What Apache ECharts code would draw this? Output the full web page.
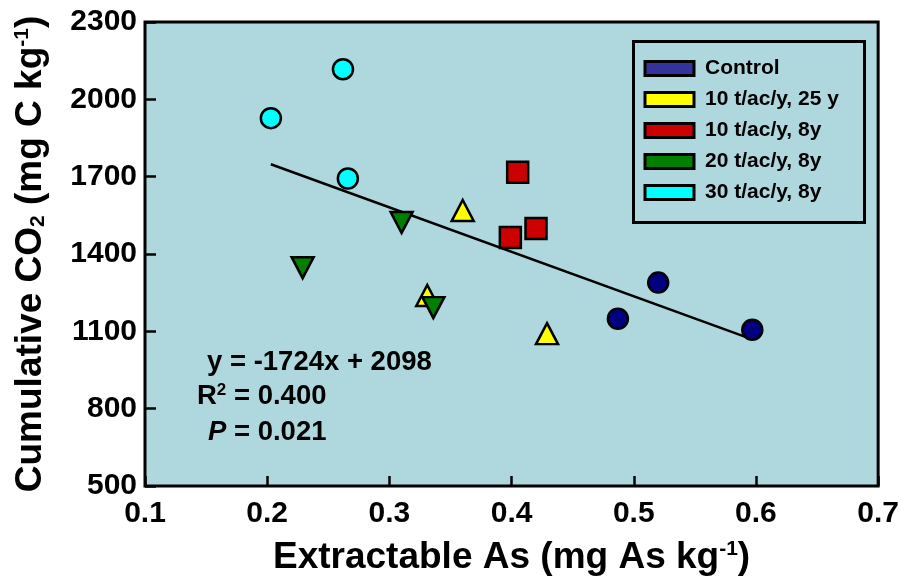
<!DOCTYPE html>
<html>
<head>
<meta charset="utf-8">
<script src="https://cdn.jsdelivr.net/npm/echarts@6/dist/echarts.min.js"></script>
<style>
	html, body { margin: 0; padding: 0; background: #fff; }
	#chart { width: 902px; height: 582px; }
</style>
</head>
<body>
<div id="chart"></div>
<script>
	// 数据
	var groups = ['Control', '10 t/ac/y, 25 y', '10 t/ac/y, 8y', '20 t/ac/y, 8y', '30 t/ac/y, 8y'];
	var controlX = [0.487, 0.520, 0.597];
	var controlY = [1149, 1289, 1106];
	var y25X = [0.360, 0.331, 0.429];
	var y25Y = [1569, 1239, 1091];
	var t10X = [0.405, 0.420, 0.399];
	var t10Y = [1717, 1499, 1464];
	var t20X = [0.310, 0.229, 0.336];
	var t20Y = [1522, 1347, 1192];
	var t30X = [0.203, 0.262, 0.266];
	var t30Y = [1927, 2117, 1693];
	var trendX = [0.203, 0.597];
	var trendY = [1748, 1069];
	var xTicks = [0.1, 0.2, 0.3, 0.4, 0.5, 0.6, 0.7];
	var yTicks = [500, 800, 1100, 1400, 1700, 2000, 2300];

	var font = '"Liberation Sans", Arial, sans-serif';

	function pairs(xs, ys) {
		return xs.map(function (x, i) { return [x, ys[i]]; });
	}

	function scatter(name, xs, ys, color, symbol, size, rotate) {
		return {
			name: name,
			type: 'scatter',
			data: pairs(xs, ys),
			symbol: symbol,
			symbolSize: size,
			symbolRotate: rotate || 0,
			itemStyle: { color: color, borderColor: '#000', borderWidth: 2.5, opacity: 1 },
			z: 3
		};
	}

	var myChart = echarts.init(document.getElementById('chart'));
	var option = {
		animation: false,
		grid: {
			left: 145, top: 22, right: 20, bottom: 96,
			show: true,
			backgroundColor: '#aed8dd',
			borderColor: '#000',
			borderWidth: 3
		},
		legend: {
			orient: 'vertical',
			left: 643.5,
			top: 58,
			padding: 0,
			icon: 'rect',
			itemWidth: 49,
			itemHeight: 14,
			itemGap: 10,
			itemStyle: { borderColor: '#000', borderWidth: 3 },
			textStyle: { fontFamily: font, fontWeight: 'bold', fontSize: 21, color: '#000', padding: [0, 0, 0, 6] },
			data: [
				{ name: groups[0], itemStyle: { color: '#333399' } },
				{ name: groups[1], itemStyle: { color: '#ffff00' } },
				{ name: groups[2], itemStyle: { color: '#cc0000' } },
				{ name: groups[3], itemStyle: { color: '#007f00' } },
				{ name: groups[4], itemStyle: { color: '#00ffff' } }
			]
		},
		xAxis: {
			type: 'value',
			min: xTicks[0],
			max: xTicks[xTicks.length - 1],
			interval: 0.1,
			axisLine: { show: false },
			axisTick: { show: true, inside: true, length: 10, lineStyle: { color: '#000', width: 2.5 } },
			splitLine: { show: false },
			axisLabel: {
				margin: 13,
				fontFamily: font, fontWeight: 'bold', fontSize: 30, color: '#000',
				formatter: function (v) { return v.toFixed(1); }
			},
			name: 'Extractable As (mg As kg{sup|-1})',
			nameLocation: 'middle',
			nameGap: 53,
			nameTextStyle: {
				fontFamily: font, fontWeight: 'bold', fontSize: 37, color: '#000',
				rich: { sup: { fontFamily: font, fontWeight: 'bold', fontSize: 21, verticalAlign: 'top', padding: [0, 0, 16, 0] } }
			}
		},
		yAxis: {
			type: 'value',
			min: yTicks[0],
			max: yTicks[yTicks.length - 1],
			interval: 300,
			axisLine: { show: false },
			axisTick: { show: true, inside: true, length: 11, lineStyle: { color: '#000', width: 2.5 } },
			splitLine: { show: false },
			axisLabel: {
				margin: 8, fontFamily: font, fontWeight: 'bold', fontSize: 30, color: '#000',
				formatter: function (v) { return String(v); }
			},
			name: 'Cumulative CO{sub|2} (mg C kg{sup|-1})',
			nameLocation: 'middle',
			nameGap: 96,
			nameTextStyle: {
				fontFamily: font, fontWeight: 'bold', fontSize: 37, color: '#000',
				rich: {
					sub: { fontFamily: font, fontWeight: 'bold', fontSize: 21, padding: [16, 0, 0, 0] },
					sup: { fontFamily: font, fontWeight: 'bold', fontSize: 21, padding: [0, 0, 16, 0] }
				}
			}
		},
		graphic: [
			{
				type: 'rect', left: 631, top: 39, z: 10,
				shape: { width: 231, height: 181 },
				style: { fill: 'none', stroke: '#000', lineWidth: 3 }
			},
			{
				type: 'text', left: 207, top: 348, z: 10,
				style: { text: 'y = -1724x + 2098', fontFamily: font, fontWeight: 'bold', fontSize: 27.5, fill: '#000' }
			},
			{
				type: 'text', left: 197, top: 382, z: 10,
				style: {
					text: 'R{sup|2} = 0.400', fontFamily: font, fontWeight: 'bold', fontSize: 27.5, fill: '#000',
					rich: { sup: { fontFamily: font, fontWeight: 'bold', fontSize: 17, padding: [0, 0, 11, 0] } }
				}
			},
			{
				type: 'text', left: 208, top: 418, z: 10,
				style: {
					text: '{i|P} = 0.021', fontFamily: font, fontWeight: 'bold', fontSize: 27.5, fill: '#000',
					rich: { i: { fontFamily: font, fontWeight: 'bold', fontStyle: 'italic', fontSize: 27.5 } }
				}
			}
		],
		series: [
			{
				name: 'trend',
				type: 'line',
				data: pairs(trendX, trendY),
				showSymbol: false,
				symbol: 'none',
				lineStyle: { color: '#000', width: 2.5 },
				z: 2,
				silent: true
			},
			scatter(groups[0], controlX, controlY, '#000080', 'circle', 20),
			scatter(groups[1], y25X, y25Y, '#ffff00', 'triangle', [22, 21]),
			scatter(groups[2], t10X, t10Y, '#cc0000', 'rect', 21),
			scatter(groups[3], t20X, t20Y, '#007f00', 'triangle', [22, 21], 180),
			scatter(groups[4], t30X, t30Y, '#00ffff', 'circle', 20)
		]
	};
	myChart.setOption(option);
</script>
</body>
</html>
